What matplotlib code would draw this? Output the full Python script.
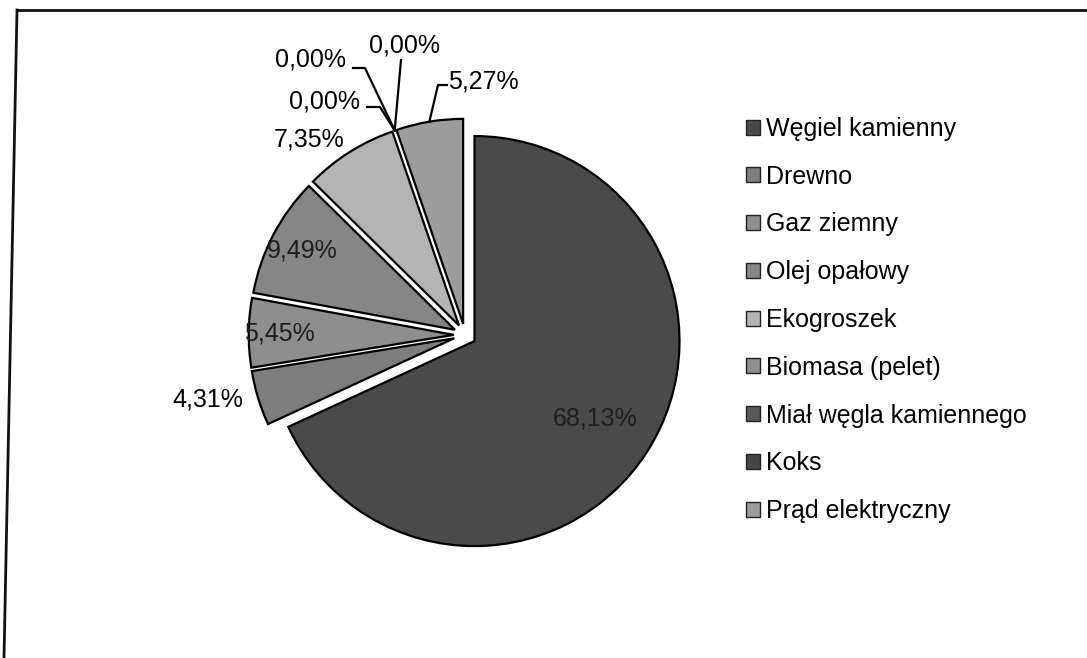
import numpy as np
import matplotlib
matplotlib.use("Agg")
import matplotlib.pyplot as plt
from matplotlib.patches import Rectangle

plt.rcParams["font.family"] = ["Liberation Sans", "DejaVu Sans"]

W, H = 1087, 658

categories = [
    "Węgiel kamienny",
    "Drewno",
    "Gaz ziemny",
    "Olej opałowy",
    "Ekogroszek",
    "Biomasa (pelet)",
    "Miał węgla kamiennego",
    "Koks",
    "Prąd elektryczny",
]
shares = [68.13, 4.31, 5.45, 9.49, 7.35, 0.00, 0.00, 0.00, 5.27]
colors = ["#4a4a4a", "#7e7e7e", "#8e8e8e", "#868686", "#b4b4b4",
          "#8f8f8f", "#5a5a5a", "#464646", "#9c9c9c"]
pct_labels = [f"{v:.2f}%".replace(".", ",") for v in shares]

# label placement (pixels, y measured from the top)
inside_frac = {0: 0.70, 2: 0.85, 3: 0.84}
outside_pos = {1: (208, 400), 4: (309, 139), 5: (325, 101), 6: (311, 59),
               7: (405, 45), 8: (483, 81)}
leader_knees = {5: [(367, 107), (380, 107)], 6: [(353, 68), (365, 68)],
                7: [(401, 60)], 8: [(447, 85), (438, 85)]}

R = 205
fig = plt.figure(figsize=(W / 100, H / 100), dpi=100)
ax = fig.add_axes([0, 0, 1, 1])

# y axis runs downwards, so startangle -90 is the top and ccw looks clockwise
wedges, _ = ax.pie(
    shares,
    explode=[0.055 * R] * len(shares),
    startangle=-90,
    counterclock=True,
    center=(465, 335),
    radius=R,
    colors=colors,
    wedgeprops=dict(edgecolor="black", linewidth=1.6),
)
ax.set_xlim(0, W)
ax.set_ylim(H, 0)
ax.set_aspect("auto")
ax.axis("off")

for i, w in enumerate(wedges):
    if shares[i] == 0:
        w.set_visible(False)


def arc_point(w, frac):
    mid = np.deg2rad((w.theta1 + w.theta2) / 2)
    cx, cy = w.center
    return cx + frac * w.r * np.cos(mid), cy + frac * w.r * np.sin(mid)


for i, frac in inside_frac.items():
    x, y = arc_point(wedges[i], frac)
    ax.text(x, y, pct_labels[i], ha="center", va="center", fontsize=18,
            color="#1e1e1e")

for i, (x, y) in outside_pos.items():
    ax.text(x, y, pct_labels[i], ha="center", va="center", fontsize=18,
            color="black")

for i, knees in leader_knees.items():
    tip = arc_point(wedges[i], 1.0)
    xs = [p[0] for p in knees] + [tip[0]]
    ys = [p[1] for p in knees] + [tip[1]]
    ax.plot(xs, ys, color="black", lw=1.6, clip_on=False)

handles = [Rectangle((0, 0), 1, 1, facecolor=c, edgecolor="#222222", lw=1)
           for c in colors]
ax.legend(
    handles, categories,
    loc="upper left",
    bbox_to_anchor=(746, 117),
    bbox_transform=ax.transData,
    frameon=False,
    fontsize=18,
    handlelength=0.55,
    handleheight=0.55,
    handletextpad=0.25,
    labelspacing=0.95,
    borderpad=0,
    borderaxespad=0,
)

# scanned frame: top and left edges only
ax.plot([17, W], [10, 10], color="#111111", lw=2, clip_on=False)
ax.plot([17, 4], [10, H], color="#111111", lw=2, clip_on=False)

fig.savefig("out.png", dpi=100, facecolor="white")
